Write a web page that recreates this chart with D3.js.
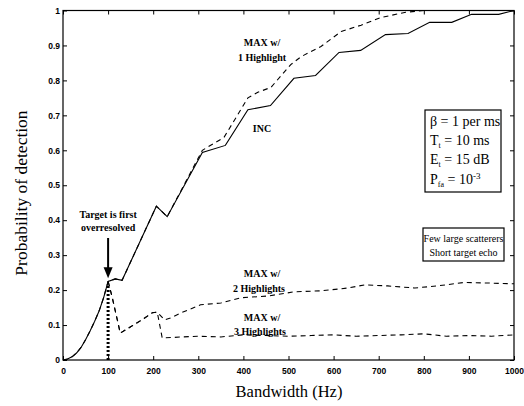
<!DOCTYPE html>
<html>
<head>
<meta charset="utf-8">
<script src="https://cdn.jsdelivr.net/npm/d3@7"></script>
<style>
  html, body { margin: 0; padding: 0; background: #fff; }
  svg { display: block; }
  .tick text { font-family: "Liberation Sans", Arial, sans-serif; font-weight: bold; font-size: 8.5px; fill: #000; }
  .domain { display: none; }
  .tick line { stroke: #000; stroke-width: 1; }
  .lbl { font-family: "Liberation Serif", "Times New Roman", serif; font-weight: bold; font-size: 10px; fill: #000; }
  .title { font-family: "Liberation Serif", "Times New Roman", serif; font-size: 16.5px; fill: #000; }
  .ytitle { font-family: "Liberation Serif", "Times New Roman", serif; font-size: 17.5px; fill: #000; }
  .box { font-family: "Liberation Serif", "Times New Roman", serif; font-size: 14px; fill: #000; }
  .note { font-family: "Liberation Serif", "Times New Roman", serif; font-size: 10px; fill: #000; }
</style>
</head>
<body>
<script>
// Incoherent detector (solid)
const incBandwidth = [0, 10, 20, 30, 40, 50, 60, 70, 80, 90, 100, 116, 131, 207, 231, 309, 360, 410, 460, 512, 560, 612, 660, 715, 765, 813, 862, 906, 966, 1000];
const incProb      = [0, 0.003, 0.009, 0.02, 0.036, 0.058, 0.083, 0.11, 0.14, 0.178, 0.225, 0.232, 0.228, 0.44, 0.41, 0.594, 0.614, 0.716, 0.728, 0.806, 0.814, 0.88, 0.886, 0.931, 0.934, 0.966, 0.966, 0.989, 0.989, 1.0];

// MAX detector with 1 highlight (dashed)
const max1Bandwidth = [0, 10, 20, 30, 40, 50, 60, 70, 80, 90, 100, 116, 131, 207, 231, 309, 357, 410, 432, 461, 505, 528, 572, 617, 661, 705, 760, 800, 1000];
const max1Prob      = [0, 0.003, 0.009, 0.02, 0.036, 0.058, 0.083, 0.11, 0.14, 0.178, 0.225, 0.232, 0.228, 0.44, 0.41, 0.6, 0.637, 0.75, 0.766, 0.78, 0.845, 0.868, 0.897, 0.94, 0.958, 0.98, 0.995, 1.0, 1.0];

// MAX detector with 2 highlights (dashed)
const max2Bandwidth = [100, 109, 127, 150, 175, 198, 209, 225, 238, 262, 305, 350, 394, 454, 512, 572, 632, 669, 720, 780, 830, 891, 950, 1000];
const max2Prob      = [0.225, 0.18, 0.077, 0.095, 0.115, 0.135, 0.137, 0.115, 0.12, 0.135, 0.158, 0.163, 0.178, 0.183, 0.195, 0.198, 0.206, 0.215, 0.212, 0.206, 0.212, 0.222, 0.22, 0.218];

// MAX detector with 3 highlights (dashed)
const max3Bandwidth = [100, 109, 127, 150, 175, 198, 209, 220, 265, 300, 350, 400, 450, 500, 550, 600, 650, 700, 750, 800, 850, 900, 950, 1000];
const max3Prob      = [0.225, 0.18, 0.077, 0.095, 0.115, 0.135, 0.137, 0.063, 0.066, 0.068, 0.066, 0.072, 0.07, 0.068, 0.07, 0.072, 0.068, 0.07, 0.072, 0.075, 0.068, 0.07, 0.068, 0.072];

// Point where the target first becomes over-resolved
const overresolved = { bandwidth: 100, prob: 0.225 };

const xTicks = [0, 100, 200, 300, 400, 500, 600, 700, 800, 900, 1000];
const yTicks = [0, 0.1, 0.2, 0.3, 0.4, 0.5, 0.6, 0.7, 0.8, 0.9, 1];

const W = 524, H = 406;
const svg = d3.select("body").append("svg").attr("width", W).attr("height", H);

const x = d3.scaleLinear().domain([0, 1000]).range([63, 514]);
const y = d3.scaleLinear().domain([0, 1]).range([360, 10.5]);

const fmtY = d => d === 0 ? "0" : d === 1 ? "1" : d3.format(".1f")(d);

// Inward ticks on all four sides
svg.append("g").attr("transform", `translate(0,${y(0)})`)
  .call(d3.axisBottom(x).tickValues(xTicks).tickSize(-4).tickPadding(8).tickFormat(d3.format("d")));
svg.append("g").attr("transform", `translate(0,${y(1)})`)
  .call(d3.axisTop(x).tickValues(xTicks).tickSize(-4).tickFormat(""));
svg.append("g").attr("transform", `translate(${x(0)},0)`)
  .call(d3.axisLeft(y).tickValues(yTicks).tickSize(-4).tickPadding(3).tickFormat(fmtY));
svg.append("g").attr("transform", `translate(${x(1000)},0)`)
  .call(d3.axisRight(y).tickValues(yTicks).tickSize(-4).tickFormat(""));

// Plot frame
svg.append("rect")
  .attr("x", x(0)).attr("y", y(1))
  .attr("width", x(1000) - x(0)).attr("height", y(0) - y(1))
  .attr("fill", "none").attr("stroke", "#000").attr("stroke-width", 1.2);

const line = d3.line().x(d => x(d[0])).y(d => y(d[1]));
const zip = (a, b) => a.map((v, i) => [v, b[i]]);

svg.append("path").datum(zip(incBandwidth, incProb))
  .attr("d", line).attr("fill", "none").attr("stroke", "#000").attr("stroke-width", 1.1);

[[max1Bandwidth, max1Prob], [max2Bandwidth, max2Prob], [max3Bandwidth, max3Prob]].forEach(([bw, p]) => {
  svg.append("path").datum(zip(bw, p))
    .attr("d", line).attr("fill", "none").attr("stroke", "#000")
    .attr("stroke-width", 1.1).attr("stroke-dasharray", "5,4");
});

// Heavy dotted marker down to the axis at the over-resolution point
svg.append("line")
  .attr("x1", x(overresolved.bandwidth)).attr("x2", x(overresolved.bandwidth))
  .attr("y1", y(0)).attr("y2", y(overresolved.prob) + 4)
  .attr("stroke", "#000").attr("stroke-width", 3).attr("stroke-dasharray", "2,2");

// Arrow pointing at the over-resolution point
const ax = x(overresolved.bandwidth);
const tipY = y(overresolved.prob) - 3;
svg.append("line").attr("x1", ax).attr("x2", ax).attr("y1", 238).attr("y2", tipY - 9)
  .attr("stroke", "#000").attr("stroke-width", 2);
svg.append("path")
  .attr("d", `M${ax - 4.5},${tipY - 11} L${ax + 4.5},${tipY - 11} L${ax},${tipY} Z`)
  .attr("fill", "#000");

svg.append("text").attr("class", "lbl").attr("x", ax).attr("y", 218).attr("text-anchor", "middle").text("Target is first");
svg.append("text").attr("class", "lbl").attr("x", ax).attr("y", 231).attr("text-anchor", "middle").text("overresolved");

// Curve labels
const curveLabels = [
  ["MAX w/", 262, 46], ["1 Highlight", 262, 61],
  ["INC", 262, 132],
  ["MAX w/", 262, 277], ["2 Highlights", 259, 292],
  ["MAX w/", 262, 321], ["3 Highlights", 260, 335]
];
curveLabels.forEach(([t, lx, ly]) => {
  svg.append("text").attr("class", "lbl").attr("x", lx).attr("y", ly).attr("text-anchor", "middle").text(t);
});

// Parameter box
svg.append("rect").attr("x", 425).attr("y", 110).attr("width", 76).attr("height", 82)
  .attr("fill", "#fff").attr("stroke", "#000").attr("stroke-width", 1.2);
const bx = 430;
const b1 = svg.append("text").attr("class", "box").attr("x", bx).attr("y", 126);
b1.text("β = 1 per ms");
const b2 = svg.append("text").attr("class", "box").attr("x", bx).attr("y", 145);
b2.append("tspan").text("T");
b2.append("tspan").attr("font-size", "8px").attr("dy", 3).text("t");
b2.append("tspan").attr("dy", -3).text(" = 10 ms");
const b3 = svg.append("text").attr("class", "box").attr("x", bx).attr("y", 164);
b3.append("tspan").text("E");
b3.append("tspan").attr("font-size", "8px").attr("dy", 3).text("t");
b3.append("tspan").attr("dy", -3).text(" = 15 dB");
const b4 = svg.append("text").attr("class", "box").attr("x", bx).attr("y", 184);
b4.append("tspan").text("P");
b4.append("tspan").attr("font-size", "8px").attr("dy", 3).text("fa");
b4.append("tspan").attr("dy", -3).text(" = 10");
b4.append("tspan").attr("font-size", "9px").attr("dy", -5).text("-3");

// Scenario box
svg.append("rect").attr("x", 423).attr("y", 228).attr("width", 81).attr("height", 33)
  .attr("fill", "#fff").attr("stroke", "#000").attr("stroke-width", 1.2);
svg.append("text").attr("class", "note").attr("x", 463.5).attr("y", 242).attr("text-anchor", "middle").text("Few large scatterers");
svg.append("text").attr("class", "note").attr("x", 463.5).attr("y", 256).attr("text-anchor", "middle").text("Short target echo");

// Axis titles
svg.append("text").attr("class", "title").attr("x", 289).attr("y", 397).attr("text-anchor", "middle").text("Bandwidth (Hz)");
svg.append("text").attr("class", "ytitle").attr("text-anchor", "middle")
  .attr("transform", "translate(27,193) rotate(-90)").text("Probability of detection");
</script>
</body>
</html>
